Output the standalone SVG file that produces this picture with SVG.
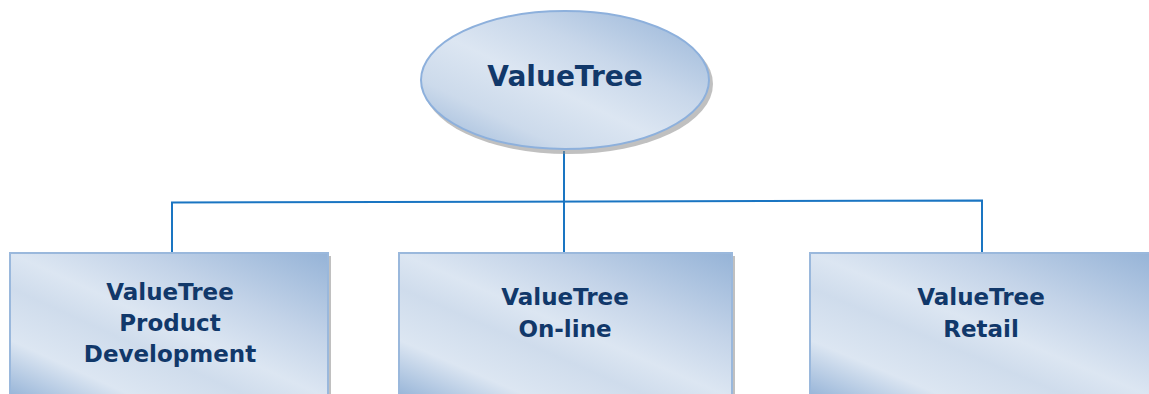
<svg xmlns="http://www.w3.org/2000/svg" width="1149" height="394" viewBox="0 0 1149 394">
<defs>
<linearGradient id="gBox" x1="1" y1="0" x2="0" y2="1">
<stop offset="0" stop-color="#95b3d7"/>
<stop offset="0.3" stop-color="#c3d3e8"/>
<stop offset="0.5" stop-color="#dce6f2"/>
<stop offset="0.62" stop-color="#cfdcec"/>
<stop offset="0.8" stop-color="#dce6f2"/>
<stop offset="1" stop-color="#95b3d7"/>
</linearGradient>
<linearGradient id="gEll" x1="1" y1="0" x2="0" y2="1">
<stop offset="0" stop-color="#95b3d7"/>
<stop offset="0.35" stop-color="#c8d7ea"/>
<stop offset="0.55" stop-color="#dce6f2"/>
<stop offset="0.75" stop-color="#ccdaeb"/>
<stop offset="1" stop-color="#95b3d7"/>
</linearGradient>
</defs>
<style>
.shadow{fill:#8c8c8c;opacity:0.55}
.box{fill:url(#gBox);stroke:#9ab8dc;stroke-width:2}
.ell{fill:url(#gEll);stroke:#8db0dc;stroke-width:2}
.lbl{font-family:"DejaVu Sans",Verdana,sans-serif;font-weight:bold;fill:#11386a;text-anchor:middle}
.conn{fill:none;stroke:#1a75c2;stroke-width:2}
</style>
<g id="connectors">
<line class="conn" x1="564" y1="151" x2="564" y2="253"/>
<polyline class="conn" points="172,253 172,202.5 982,200.5 982,253"/>
</g>
<g id="root">
<ellipse class="shadow" cx="568" cy="84" rx="145" ry="70"/>
<ellipse class="ell" cx="565" cy="80" rx="144" ry="69"/>
<text class="lbl" x="565" y="86" font-size="28">ValueTree</text>
</g>
<g id="product">
<rect class="shadow" x="13" y="256" width="318" height="145"/>
<rect class="box" x="10" y="253" width="318" height="145"/>
<text class="lbl" x="170" y="300" font-size="23">ValueTree</text>
<text class="lbl" x="170" y="331" font-size="23">Product</text>
<text class="lbl" x="170" y="362" font-size="23">Development</text>
</g>
<g id="online">
<rect class="shadow" x="402" y="256" width="333" height="145"/>
<rect class="box" x="399" y="253" width="333" height="145"/>
<text class="lbl" x="565" y="305" font-size="23">ValueTree</text>
<text class="lbl" x="565" y="337" font-size="23">On-line</text>
</g>
<g id="retail">
<rect class="shadow" x="813" y="256" width="345" height="145"/>
<rect class="box" x="810" y="253" width="345" height="145"/>
<text class="lbl" x="981" y="305" font-size="23">ValueTree</text>
<text class="lbl" x="981" y="337" font-size="23">Retail</text>
</g>
</svg>
